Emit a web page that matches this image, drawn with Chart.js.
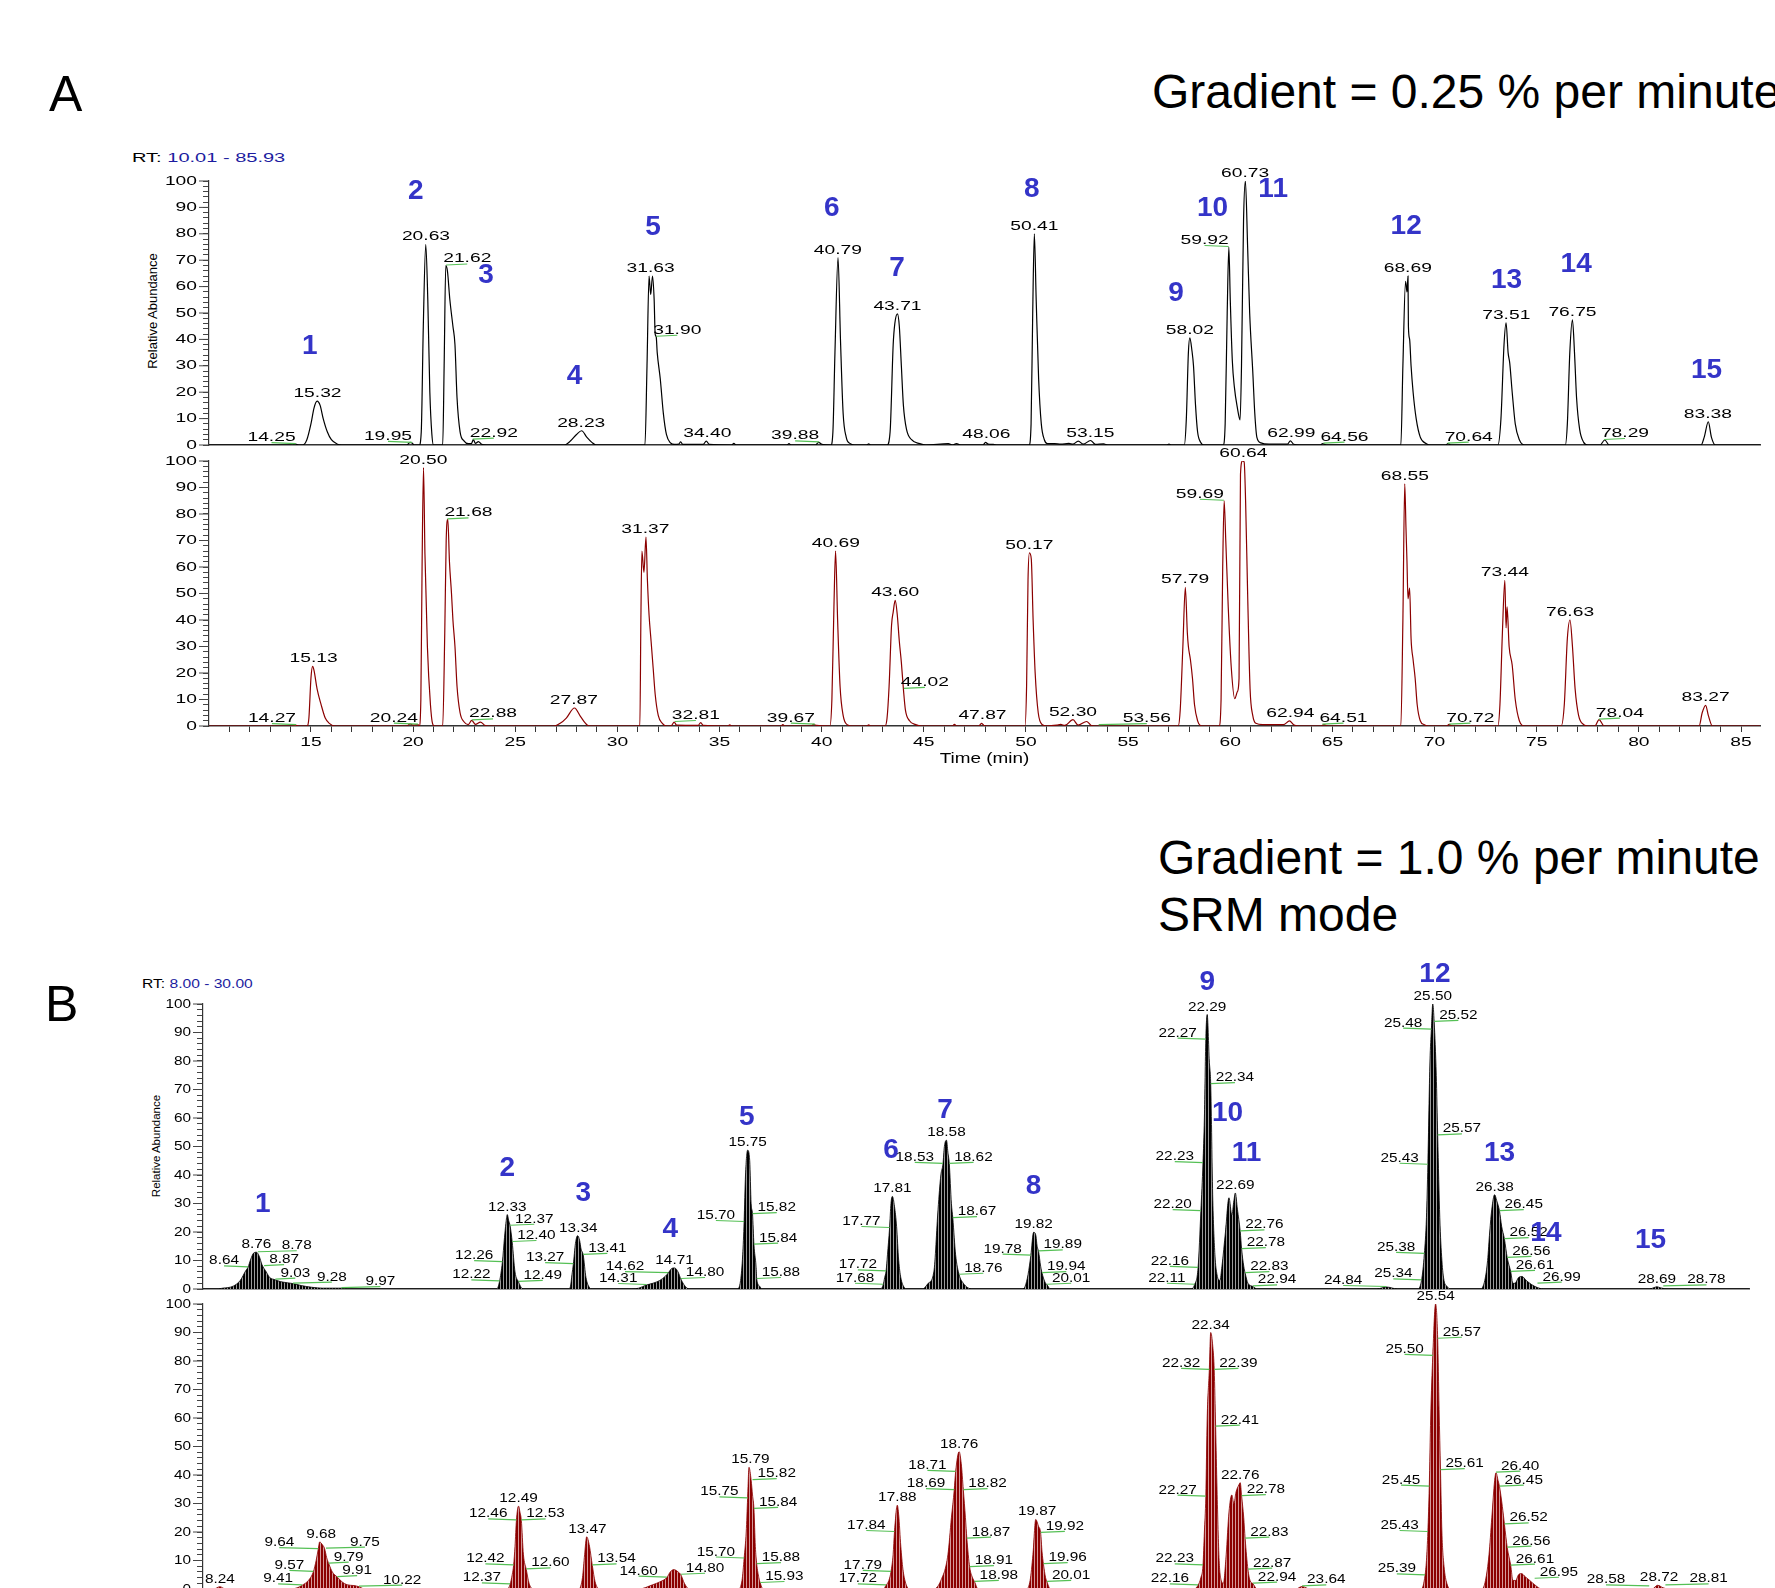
<!DOCTYPE html>
<html>
<head>
<meta charset="utf-8">
<script src="https://cdn.jsdelivr.net/npm/chart.js@4.4.1/dist/chart.umd.min.js"></script>
<style>
body{margin:0;width:1775px;height:1588px;overflow:hidden;background:#fff;position:relative;font-family:"Liberation Sans",Arial,sans-serif}
canvas{position:absolute;left:0}
.big{position:absolute;line-height:1;color:#000;white-space:nowrap}
.rt{position:absolute;font-size:13px;line-height:1;white-space:nowrap;transform-origin:0 0;color:#000}
.rt span{color:#1c1ca0}
.ra{position:absolute;white-space:nowrap;line-height:1;color:#000;transform:translate(-50%,-50%) rotate(-90deg)}
</style>
</head>
<body>
<div class="big" style="left:49px;top:69px;font-size:50px">A</div>
<div class="big" style="left:1152px;top:68px;font-size:48px">Gradient = 0.25 % per minute</div>
<div class="big" style="left:1158px;top:834px;font-size:48px">Gradient = 1.0 % per minute</div>
<div class="big" style="left:1158px;top:891px;font-size:48px">SRM mode</div>
<div class="big" style="left:45px;top:979px;font-size:50px">B</div>
<div class="rt" style="left:132px;top:151px;transform:scaleX(1.54)">RT: <span>10.01 - 85.93</span></div>
<div class="rt" style="left:142px;top:977px;transform:scaleX(1.2)">RT: <span>8.00 - 30.00</span></div>
<div class="ra" style="left:152px;top:311px;font-size:13px">Relative Abundance</div>
<div class="ra" style="left:157px;top:1146px;font-size:11.5px">Relative Abundance</div>

<canvas id="chA1" width="1775" height="330" style="top:130px"></canvas>
<canvas id="chA2" width="1775" height="337" style="top:438px"></canvas>
<canvas id="chB1" width="1775" height="350" style="top:950px"></canvas>
<canvas id="chB2" width="1775" height="330" style="top:1285px"></canvas>

<script>
'use strict';

// ---- panel A (0.25 % per minute), time in min / relative abundance ----
var timeRangeA=[10.01, 85.93];
var timeTicksA=[15,20,25,30,35,40,45,50,55,60,65,70,75,80,85];
var abundanceTicks=[0,10,20,30,40,50,60,70,80,90,100];

var traceA1=[
	[10.01,0],[14.1,0],[14.25,0.3],[14.4,0],
	[14.6,0],[14.8,2],[15.0,8],[15.15,14],[15.3,16.6],[15.45,15],[15.6,10],[15.8,5],[16.0,2],[16.3,0.3],[16.5,0],
	[19.7,0],[19.85,1],[19.95,0.8],[20.05,0],
	[20.3,0],[20.4,5],[20.5,45],[20.62,76],[20.72,55],[20.82,20],[20.92,4],[21.0,0],
	[21.45,0],[21.52,30],[21.6,68],[21.68,66],[21.8,55],[21.95,45],[22.05,38],[22.15,18],[22.3,5],[22.5,1.5],[22.7,0.5],[22.85,0.5],[22.95,2],[23.05,0.6],[23.2,1.3],[23.35,0.3],[23.6,0],
	[27.4,0],[27.7,1.5],[28.0,4],[28.25,5.4],[28.5,3],[28.75,1],[28.95,0],
	[31.35,0],[31.45,30],[31.55,64],[31.63,57],[31.72,64],[31.8,55],[31.85,42],[31.9,41],[31.95,35],[32.1,25],[32.25,12],[32.4,4],[32.6,0.8],[32.8,0.2],[33.0,0.3],[33.1,1.2],[33.2,0.2],[34.2,0.2],[34.35,1.5],[34.5,0.2],[35.6,0],[35.7,0.6],[35.8,0],
	[38.3,0],[38.4,0.5],[38.5,0],[39.7,0],[39.85,1],[40.0,0.3],
	[40.45,0],[40.55,5],[40.65,35],[40.8,71],[40.92,40],[41.05,12],[41.2,3],[41.4,0.5],[41.6,0],
	[42.2,0],[42.3,0.4],[42.4,0],
	[43.2,0],[43.35,5],[43.5,38],[43.58,46],[43.71,49.7],[43.8,45],[43.9,30],[44.0,15],[44.15,6],[44.4,2],[44.8,0.5],[45.1,0],
	[46.2,0.5],[46.4,0],[46.6,0.5],[46.8,0],[47.9,0],[48.02,1],[48.15,0.3],[48.4,0.2],[48.6,0],
	[50.15,0],[50.25,8],[50.33,50],[50.41,80],[50.5,55],[50.62,25],[50.75,8],[50.9,2],[51.05,0.5],[51.4,0.5],[51.7,0.3],[52.1,0.6],[52.3,0.3],[52.56,1.5],[52.8,0.3],[53.16,1.7],[53.4,0.2],[53.8,0.4],[54.0,0],
	[56.9,0],[57.0,0.3],[57.1,0],
	[57.75,0],[57.85,10],[57.95,35],[58.02,40.6],[58.12,36],[58.2,30],[58.3,15],[58.4,5],[58.55,1],[58.7,0],
	[59.65,0],[59.75,8],[59.85,50],[59.93,75],[60.0,55],[60.1,32],[60.2,22],[60.35,14],[60.48,9.5],[60.55,30],[60.65,85],[60.74,100],[60.85,75],[60.95,50],[61.1,28],[61.2,12],[61.3,3],[61.5,0.8],[61.9,0.3],[62.5,0.3],[62.8,0.3],[62.94,1.6],[63.1,0.3],[63.4,0],
	[64.4,0],[64.53,0.5],[64.7,0],
	[68.35,0],[68.45,30],[68.58,62],[68.65,58],[68.7,64],[68.72,45],[68.78,40],[68.85,30],[68.95,20],[69.1,10],[69.3,3],[69.6,0.5],[69.8,0],
	[70.55,0],[70.65,0.5],[70.8,0],
	[73.1,0],[73.25,10],[73.4,38],[73.5,46.3],[73.6,35],[73.68,31],[73.8,20],[73.95,8],[74.15,2],[74.4,0],
	[76.4,0],[76.5,8],[76.62,35],[76.75,47.4],[76.85,35],[76.95,18],[77.1,6],[77.3,1],[77.5,0],
	[78.1,0],[78.33,1.9],[78.55,0],
	[83.05,0],[83.2,3],[83.4,8.8],[83.55,3],[83.75,0],[85.93,0]
];

var traceA2=[
	[10.01,0],[14.1,0],[14.23,0.3],[14.4,0],
	[14.8,0],[14.9,3],[15.0,18],[15.08,22.5],[15.15,21],[15.3,14],[15.5,8],[15.7,3],[15.9,1],[16.2,0],
	[19.7,0],[19.85,0.8],[20.0,0.3],[20.24,0.5],
	[20.3,0],[20.38,10],[20.44,60],[20.51,97.5],[20.58,65],[20.7,30],[20.85,8],[20.95,1],[21.05,0],
	[21.45,0],[21.55,35],[21.62,70],[21.7,78],[21.78,62],[21.88,50],[21.95,40],[22.05,30],[22.15,15],[22.3,5],[22.5,1.5],[22.7,0.5],[22.87,2.1],[23.05,0.6],[23.3,1.5],[23.5,0.3],[23.7,0],
	[26.9,0],[27.2,1],[27.5,3],[27.9,6.8],[28.2,3.5],[28.5,0.5],[28.7,0],
	[31.1,0],[31.15,40],[31.2,66],[31.3,58],[31.4,71.3],[31.47,55],[31.55,42],[31.65,32],[31.75,22],[31.85,12],[32.0,4],[32.2,1],[32.4,0],[32.65,0.2],[32.78,1.5],[32.9,0.3],[33.95,0.2],[34.08,1.3],[34.2,0.2],[35.4,0],[35.5,0.4],[35.6,0],
	[38.0,0],[38.1,0.5],[38.2,0],[39.5,0],[39.6,0.6],[39.75,0.2],
	[40.4,0],[40.5,10],[40.6,45],[40.68,66],[40.78,40],[40.9,15],[41.05,4],[41.25,0.5],[41.5,0],
	[42.2,0],[42.3,0.4],[42.4,0],
	[43.1,0],[43.2,3],[43.3,15],[43.42,38],[43.5,43],[43.6,47.4],[43.7,42],[43.8,32],[43.9,24],[44.0,14],[44.1,6],[44.3,2],[44.6,0.5],[44.9,0],
	[46.4,0],[46.5,0.6],[46.6,0],[47.7,0],[47.82,1],[47.95,0.2],[48.3,0],
	[49.95,0],[50.03,15],[50.1,55],[50.17,65.3],[50.26,63],[50.35,40],[50.45,20],[50.6,5],[50.8,0.5],[51.0,0],[51.5,0.3],[51.7,0.6],[51.9,0.2],[52.3,2.4],[52.55,0.3],[52.97,1.7],[53.2,0.2],[53.6,0],
	[57.45,0],[57.55,6],[57.68,30],[57.8,52.3],[57.9,35],[57.95,30],[58.05,25],[58.15,18],[58.25,8],[58.4,2],[58.6,0],
	[59.45,0],[59.55,10],[59.63,60],[59.7,85],[59.78,70],[59.9,45],[60.05,22],[60.22,10.3],[60.35,13],[60.43,18],[60.5,95],[60.6,100],[60.68,99.6],[60.75,85],[60.85,50],[60.97,14],[61.1,4],[61.25,1],[61.6,0.5],[62.6,0.5],[62.9,1.9],[63.1,0.5],[63.4,0],
	[64.45,0],[64.59,0.5],[64.75,0],
	[68.35,0],[68.45,40],[68.54,91.4],[68.6,75],[68.65,62],[68.7,48],[68.78,52],[68.85,33],[68.95,25],[69.05,18],[69.15,8],[69.3,2],[69.5,0.5],[69.7,0],
	[70.6,0],[70.71,0.6],[70.85,0],
	[73.1,0],[73.2,8],[73.32,35],[73.44,55],[73.5,37],[73.55,45],[73.65,30],[73.8,23],[73.95,10],[74.15,2],[74.4,0],
	[76.2,0],[76.35,8],[76.5,33],[76.63,40],[76.75,30],[76.88,14],[77.05,4],[77.3,0.5],[77.5,0],
	[77.85,0],[78.05,2.4],[78.3,0],
	[82.95,0],[83.1,5],[83.27,7.8],[83.4,4],[83.6,0],[85.93,0]
];

// peak labels: [retention time, abundance, placement]
var labelsA1=[
	[14.25,0.3,'l'],[15.32,16.6,'c'],[19.95,0.8,'l'],[20.63,76,'c'],[21.62,68,'r'],[22.92,2,'r'],
	[28.23,5.4,'c'],[31.63,64,'c'],[31.90,41,'r'],[34.40,1.5,'c'],[39.88,1,'l'],[40.79,71,'c'],
	[43.71,49.7,'c'],[48.06,1,'c'],[50.41,80,'c'],[53.15,1.7,'c'],[58.02,40.6,'c'],[59.92,75,'l'],
	[60.73,100,'c'],[62.99,1.6,'c'],[64.56,0.5,'r'],[68.69,64,'c'],[70.64,0.5,'r'],[73.51,46.3,'c'],
	[76.75,47.4,'c'],[78.29,1.9,'r'],[83.38,8.8,'c']
];
var labelsA2=[
	[14.27,0.3,'l'],[15.13,22.5,'c'],[20.24,0.5,'l'],[20.50,97.5,'c'],[21.68,78,'r'],[22.88,2.1,'r'],
	[27.87,6.8,'c'],[31.37,71.3,'c'],[32.81,1.5,'r'],[39.67,0.5,'l'],[40.69,66,'c'],[43.60,47.4,'c'],
	[44.02,14,'r'],[47.87,1,'c'],[50.17,65.3,'c'],[52.30,2.4,'c'],[53.56,0.3,'R'],[57.79,52.3,'c'],
	[59.69,85,'l'],[60.64,100,'c'],[62.94,1.9,'c'],[64.51,0.5,'r'],[68.55,91.4,'c'],[70.72,0.5,'r'],
	[73.44,55,'c'],[76.63,40,'c'],[78.04,2.4,'r'],[83.27,7.8,'c']
];
// compound numbers: [id, time, abundance]
var compoundsA=[
	[1,14.94,37.4],[2,20.13,96],[3,23.57,64.2],[4,27.9,26],[5,31.74,82.3],[6,40.5,89.5],[7,43.69,67],
	[8,50.29,97],[9,57.35,57.6],[10,59.13,89.5],[11,62.1,97],[12,68.61,82.8],[13,73.52,62.3],
	[14,76.93,68.4],[15,83.31,28.2]
];

// ---- panel B (1.0 % per minute, SRM) ----
var timeRangeB=[8, 30];

var traceB1=[
	[8,0],[8.2,0],[8.28,0.3],[8.43,1],[8.53,3],[8.61,6.5],[8.64,7.6],[8.68,10.5],[8.72,12.6],[8.76,12.9],[8.8,11.5],[8.84,8.5],[8.9,6],[8.95,4],[9.02,3.3],[9.1,2.6],[9.2,2.2],[9.28,1.9],[9.4,1.2],[9.55,0.6],[9.7,0.3],[9.97,0.3],[10.1,0],
	[12.18,0],[12.22,2.7],[12.26,9.4],[12.29,18],[12.31,23],[12.33,26.1],[12.35,24],[12.37,22.2],[12.4,16.5],[12.44,6],[12.49,2.5],[12.53,0.5],[12.56,0],
	[13.2,0],[13.23,1],[13.25,5],[13.27,8.7],[13.3,16],[13.33,18.7],[13.36,17],[13.38,14],[13.41,12],[13.45,4],[13.5,0.5],[13.54,0],
	[14.1,0],[14.2,0.3],[14.31,1.4],[14.4,2],[14.5,3],[14.58,4.5],[14.62,5.6],[14.67,7.2],[14.71,7.4],[14.76,6],[14.8,3.5],[14.86,1],[14.92,0],
	[15.6,0],[15.65,3],[15.68,12],[15.7,23.5],[15.72,40],[15.75,48.7],[15.78,45],[15.8,30],[15.82,26.3],[15.84,15.6],[15.87,8],[15.88,3.5],[15.92,1],[15.96,0],
	[17.64,0],[17.68,1.5],[17.7,4],[17.72,6.2],[17.74,12],[17.77,21.4],[17.79,30],[17.81,32.5],[17.84,29],[17.87,22],[17.9,10],[17.93,4],[17.98,0.5],[18.02,0],
	[18.24,0],[18.32,2],[18.4,6],[18.46,28],[18.5,40],[18.53,43.9],[18.55,50],[18.58,52.2],[18.6,48],[18.62,43.9],[18.65,30],[18.67,24.9],[18.71,12],[18.76,5],[18.82,2],[18.88,0.5],[18.93,0],
	[19.66,0],[19.7,1],[19.74,5],[19.78,11.7],[19.82,19.9],[19.85,19],[19.87,15],[19.89,13.2],[19.92,8],[19.94,5.6],[19.98,2.5],[20.01,1.5],[20.06,0],
	[22.06,0],[22.11,1.5],[22.16,7.4],[22.2,27.3],[22.23,44.2],[22.25,60],[22.27,87.5],[22.29,96.3],[22.32,80],[22.34,71.9],[22.37,31],[22.4,12],[22.43,5],[22.47,3],[22.5,8],[22.55,20],[22.6,32],[22.64,26],[22.67,31],[22.69,33.7],[22.72,28],[22.76,20.2],[22.78,14],[22.81,8],[22.83,5.6],[22.87,2],[22.94,0.9],[23.0,0],
	[24.7,0],[24.84,0.7],[25.0,0],
	[25.28,0],[25.34,3],[25.38,12.3],[25.41,25],[25.43,43.6],[25.46,80],[25.48,91],[25.5,100],[25.52,93.7],[25.55,75],[25.57,53.9],[25.6,25],[25.63,10],[25.66,3],[25.7,1],[25.75,0],
	[26.18,0],[26.24,3],[26.28,10],[26.31,20],[26.34,28],[26.38,33.1],[26.41,31],[26.45,27.3],[26.48,22],[26.52,17.5],[26.56,10.9],[26.61,6],[26.64,2],[26.67,2],[26.72,4],[26.77,4.4],[26.83,3],[26.91,1.5],[26.99,0.5],[27.07,0],
	[28.58,0],[28.65,0.5],[28.69,0.8],[28.74,0.4],[28.78,0.2],[28.85,0],[30,0]
];

var traceB2=[
	[8,0],[8.15,0],[8.24,0.8],[8.32,0],
	[9.25,0],[9.35,0.5],[9.41,1.3],[9.5,3],[9.57,6],[9.61,10],[9.64,14],[9.66,16.5],[9.7,15.5],[9.73,14.2],[9.76,11],[9.79,8.9],[9.84,6],[9.91,4.2],[9.98,2.5],[10.05,1.5],[10.15,1.2],[10.22,0.8],[10.3,0],
	[12.33,0],[12.37,1.6],[12.4,5],[12.42,8.3],[12.44,15],[12.46,24.1],[12.49,29.1],[12.51,27],[12.53,24.1],[12.56,12],[12.6,6.9],[12.64,2],[12.7,0],
	[13.35,0],[13.4,4],[13.43,12],[13.46,18.3],[13.5,15],[13.54,8.3],[13.58,2.5],[13.64,0],
	[14.2,0],[14.4,1.5],[14.5,2.5],[14.6,4],[14.65,6],[14.7,6.8],[14.76,6],[14.8,5],[14.85,2],[14.92,0],
	[15.62,0],[15.67,3],[15.7,10.7],[15.73,20],[15.75,31.8],[15.77,42.7],[15.8,38.2],[15.82,33],[15.84,28.1],[15.86,15],[15.88,8.7],[15.91,4],[15.93,2.1],[15.97,0],
	[17.68,0],[17.72,1.3],[17.76,3],[17.79,6],[17.82,12],[17.84,20],[17.88,29.4],[17.9,26],[17.93,15],[17.96,7],[18.0,2],[18.05,0],
	[18.4,0],[18.5,3],[18.6,12],[18.65,25],[18.69,34.7],[18.71,41.1],[18.76,48.2],[18.79,44],[18.82,34.7],[18.85,25],[18.87,17.7],[18.91,7.7],[18.95,4],[18.98,2.5],[19.03,0],
	[19.72,0],[19.77,3],[19.81,12],[19.85,24.4],[19.89,22],[19.92,19.7],[19.94,13],[19.96,8.7],[19.99,4],[20.01,2.5],[20.06,0],
	[22.1,0],[22.16,1.3],[22.2,4],[22.23,8.3],[22.25,20],[22.27,32.4],[22.29,60],[22.32,76.9],[22.34,90],[22.37,85],[22.39,76.9],[22.41,57],[22.43,35],[22.46,10],[22.49,3],[22.52,2],[22.56,12],[22.6,27],[22.64,33],[22.67,30],[22.7,34],[22.74,36.5],[22.76,37.3],[22.78,32.6],[22.81,25],[22.83,17.7],[22.87,6.8],[22.9,3],[22.94,1.9],[23.0,0],
	[23.55,0],[23.64,0.9],[23.75,0],
	[25.34,0],[25.39,4.8],[25.41,10],[25.43,20],[25.45,35.9],[25.47,60],[25.5,81.8],[25.54,100],[25.57,87.8],[25.59,63],[25.61,41.7],[25.63,20],[25.66,8],[25.7,2],[25.76,0],
	[26.2,0],[26.25,3],[26.3,12],[26.34,25],[26.38,38],[26.4,40.8],[26.43,38],[26.45,35.9],[26.49,29],[26.52,22.7],[26.56,14.5],[26.61,8.2],[26.64,3],[26.68,3],[26.72,5],[26.76,5.4],[26.82,4.2],[26.88,3],[26.95,1.5],[27.05,0],
	[28.62,0],[28.7,1.3],[28.78,0.4],[28.86,0],[30,0]
];

var labelsB1=[
	[8.64,7.6,'l'],[8.76,12.9,'c'],[8.78,12.9,'R'],[8.87,8,'r'],[9.03,3.3,'r'],[9.28,1.9,'R'],[9.97,0.3,'R'],
	[12.22,2.7,'l'],[12.26,9.4,'l'],[12.33,26.1,'c'],[12.37,22.2,'r'],[12.40,16.5,'r'],[12.49,2.5,'r'],
	[13.27,8.7,'l'],[13.34,18.7,'c'],[13.41,12,'r'],
	[14.31,1.4,'l'],[14.62,5.6,'L'],[14.71,7.4,'c'],[14.80,3.5,'r'],
	[15.70,23.5,'l'],[15.75,48.7,'c'],[15.82,26.3,'r'],[15.84,15.6,'r'],[15.88,3.5,'r'],
	[17.68,1.5,'l'],[17.72,6.2,'l'],[17.77,21.4,'l'],[17.81,32.5,'c'],
	[18.53,43.9,'l'],[18.58,52.2,'c'],[18.62,43.9,'r'],[18.67,24.9,'r'],[18.76,5,'r'],
	[19.78,11.7,'l'],[19.82,19.9,'c'],[19.89,13.2,'r'],[19.94,5.6,'r'],[20.01,1.5,'r'],
	[22.11,1.5,'l'],[22.16,7.4,'l'],[22.20,27.3,'l'],[22.23,44.2,'l'],[22.27,87.5,'l'],[22.29,96.3,'c'],[22.34,71.9,'r'],
	[22.69,33.7,'c'],[22.76,20.2,'r'],[22.78,14,'r'],[22.83,5.6,'r'],[22.94,0.9,'r'],
	[24.84,0.7,'L'],
	[25.34,3,'l'],[25.38,12.3,'l'],[25.43,43.6,'l'],[25.48,91,'l'],[25.50,100,'c'],[25.52,93.7,'r'],[25.57,53.9,'r'],
	[26.38,33.1,'c'],[26.45,27.3,'r'],[26.52,17.5,'r'],[26.56,10.9,'r'],[26.61,6,'r'],[26.99,1.9,'r'],
	[28.69,0.8,'c'],[28.78,0.9,'R']
];
var labelsB2=[
	[8.24,0.8,'c'],[9.41,1.3,'l'],[9.57,6,'l'],[9.64,14,'L'],[9.68,16.5,'c'],[9.75,14.2,'R'],[9.79,8.9,'r'],[9.91,4.2,'r'],[10.22,0.8,'R'],
	[12.37,1.6,'l'],[12.42,8.3,'l'],[12.46,24.1,'l'],[12.49,29.1,'c'],[12.53,24.1,'r'],[12.60,6.9,'r'],
	[13.47,18.3,'c'],[13.54,8.3,'r'],
	[14.60,4,'l'],[14.80,5,'r'],
	[15.70,10.7,'l'],[15.75,31.8,'l'],[15.79,42.7,'c'],[15.82,38.2,'r'],[15.84,28.1,'r'],[15.88,8.7,'r'],[15.93,2.1,'r'],
	[17.72,1.3,'l'],[17.79,6,'l'],[17.84,20,'l'],[17.88,29.4,'c'],
	[18.69,34.7,'l'],[18.71,41.1,'l'],[18.76,48.2,'c'],[18.82,34.7,'r'],[18.87,17.7,'r'],[18.91,7.7,'r'],[18.98,2.5,'r'],
	[19.87,24.4,'c'],[19.92,19.7,'r'],[19.96,8.7,'r'],[20.01,2.5,'r'],
	[22.16,1.3,'l'],[22.23,8.3,'l'],[22.27,32.4,'l'],[22.32,76.9,'l'],[22.34,90,'c'],[22.39,76.9,'r'],[22.41,57,'r'],
	[22.76,37.3,'c'],[22.78,32.6,'r'],[22.83,17.7,'r'],[22.87,6.8,'r'],[22.94,1.9,'r'],[23.64,0.9,'r'],
	[25.39,4.8,'l'],[25.43,20,'l'],[25.45,35.9,'l'],[25.50,81.8,'l'],[25.54,100,'c'],[25.57,87.8,'r'],[25.61,41.7,'r'],
	[26.40,40.8,'r'],[26.45,35.9,'r'],[26.52,22.7,'r'],[26.56,14.5,'r'],[26.61,8.2,'r'],[26.95,3.6,'r'],
	[28.58,0.9,'L'],[28.72,1.3,'c'],[28.81,1.3,'R']
];
var compoundsB=[
	[1,8.85,29.6],[2,12.33,42.2],[3,13.41,33.7],[4,14.65,20.8],[5,15.74,60.4],[6,17.79,48.7],[7,18.56,62.7],
	[8,19.82,36],[9,22.29,107.7],[10,22.58,61.8],[11,22.85,47.7],[12,25.53,110.6],[13,26.45,47.5],
	[14,27.11,19.6],[15,28.6,17.1]
];

var FONT='"Liberation Sans", Arial, sans-serif';
var GREEN='#55c055';
var BLUE='#3434c8';
var LABEL_SIZE=13;

function text(ctx, s, x, y, align, base, size, sx, color, bold) {
	ctx.save();
	ctx.font=(bold ? 'bold ' : '')+size+'px '+FONT;
	ctx.fillStyle=color;
	ctx.textAlign=align;
	ctx.textBaseline=base;
	ctx.translate(x, y);
	ctx.scale(sx, 1);
	ctx.fillText(s, 0, 0);
	ctx.restore();
}

function textWidth(ctx, s, size, sx) {
	ctx.save();
	ctx.font=size+'px '+FONT;
	var w=ctx.measureText(s).width*sx;
	ctx.restore();
	return w;
}

// comb-like fill for the SRM traces
function stripes(ctx, dark, light) {
	var c=document.createElement('canvas');
	c.width=3; c.height=1;
	var g=c.getContext('2d');
	g.fillStyle=dark; g.fillRect(0, 0, 3, 1);
	g.fillStyle=light; g.fillRect(2, 0, 1, 1);
	return ctx.createPattern(c, 'repeat');
}

function drawExtras(chart, o) {
	var ctx=chart.ctx, x=chart.scales.x, y=chart.scales.y, area=chart.chartArea;

	// y tick labels + longer major ticks
	ctx.save();
	ctx.strokeStyle='#444';
	ctx.lineWidth=1;
	abundanceTicks.forEach(function(v) {
		var py=y.getPixelForValue(v);
		ctx.beginPath();
		ctx.moveTo(area.left-10, py);
		ctx.lineTo(area.left, py);
		ctx.stroke();
		text(ctx, String(v), area.left-12, py, 'right', 'middle', LABEL_SIZE, o.sx, '#000');
	});
	ctx.restore();

	if (o.timeTicks) {
		o.timeTicks.forEach(function(v) {
			text(ctx, String(v), x.getPixelForValue(v), area.bottom+20, 'center', 'alphabetic', LABEL_SIZE, o.sx, '#000');
		});
		text(ctx, 'Time (min)', (area.left+area.right)/2, area.bottom+37, 'center', 'alphabetic', 14, 1.35, '#000');
	}

	// peak labels
	o.labels.forEach(function(l) {
		var s=l[0].toFixed(2), px=x.getPixelForValue(l[0]), py=y.getPixelForValue(l[1]), k=l[2];
		var w=textWidth(ctx, s, LABEL_SIZE, o.sx), left;
		if (k==='c') {
			text(ctx, s, px, py-4, 'center', 'alphabetic', LABEL_SIZE, o.sx, '#000');
			return;
		}
		if (k==='r') left=px+o.nearR;
		else if (k==='R') left=px+24;
		else if (k==='l') left=px-o.nearL-w;
		else left=px-24-w;
		ctx.save();
		ctx.strokeStyle=GREEN;
		ctx.lineWidth=1.2;
		ctx.beginPath();
		ctx.moveTo(px, py-0.5);
		ctx.lineTo(left+w/2, py-1.5);
		ctx.stroke();
		ctx.restore();
		text(ctx, s, left, py-3, 'left', 'alphabetic', LABEL_SIZE, o.sx, '#000');
	});

	(o.compounds || []).forEach(function(c) {
		text(ctx, String(c[0]), x.getPixelForValue(c[1]), y.getPixelForValue(c[2]), 'center', 'middle', 28, 1, BLUE, true);
	});
}

function chromChart(id, o) {
	var ctx=document.getElementById(id).getContext('2d');
	return new Chart(ctx, {
		type: 'line',
		data: {
			datasets: [{
				data: o.trace.map(function(p) { return {x: p[0], y: p[1]}; }),
				borderColor: o.color,
				borderWidth: o.lineWidth,
				backgroundColor: o.light ? stripes(ctx, o.color, o.light) : 'transparent',
				fill: o.light ? 'origin' : false,
				pointRadius: 0,
				cubicInterpolationMode: 'monotone'
			}]
		},
		options: {
			responsive: false,
			animation: false,
			devicePixelRatio: 1,
			layout: {autoPadding: false, padding: o.padding},
			plugins: {legend: {display: false}, tooltip: {enabled: false}},
			scales: {
				x: {
					type: 'linear',
					min: o.range[0],
					max: o.range[1],
					ticks: {display: false},
					grid: {drawOnChartArea: false, drawTicks: !!o.timeTicks, tickLength: 6, tickColor: '#333'},
					border: {color: '#333', width: 1.5},
					afterBuildTicks: function(s) {
						var t=[];
						for (var v=Math.ceil(o.range[0]); v<=o.range[1]; v++) t.push({value: v});
						s.ticks=t;
					},
					afterFit: function(s) { s.height=o.xHeight; }
				},
				y: {
					min: 0,
					max: 100,
					ticks: {display: false},
					grid: {drawOnChartArea: false, tickLength: 6, tickColor: '#444'},
					border: {color: '#333', width: 1.2},
					afterBuildTicks: function(s) {
						var t=[];
						for (var v=0; v<=100; v+=2) t.push({value: v});
						s.ticks=t;
					},
					afterFit: function(s) { s.width=o.yWidth; }
				}
			}
		},
		plugins: [{id: 'chrom', afterDraw: function(chart) { drawExtras(chart, o); }}]
	});
}

chromChart('chA1', {
	trace: traceA1, color: '#000', lineWidth: 1.2, range: timeRangeA,
	padding: {top: 51, left: 0, right: 15, bottom: 15}, yWidth: 209, xHeight: 0,
	labels: labelsA1, compounds: compoundsA, sx: 1.48, nearR: -3, nearL: 0
});
chromChart('chA2', {
	trace: traceA2, color: '#8b0000', lineWidth: 1.2, range: timeRangeA,
	padding: {top: 23, left: 0, right: 15, bottom: 0}, yWidth: 209, xHeight: 49,
	labels: labelsA2, timeTicks: timeTicksA, sx: 1.48, nearR: -3, nearL: 0
});
chromChart('chB1', {
	trace: traceB1, color: '#000', light: '#9a9a9a', lineWidth: 0.8, range: timeRangeB,
	padding: {top: 54, left: 0, right: 26, bottom: 11}, yWidth: 203, xHeight: 0,
	labels: labelsB1, compounds: compoundsB, sx: 1.18, nearR: 5, nearL: 9
});
chromChart('chB2', {
	trace: traceB2, color: '#8b0000', light: '#d49a9a', lineWidth: 0.8, range: timeRangeB,
	padding: {top: 19, left: 0, right: 26, bottom: 26}, yWidth: 203, xHeight: 0,
	labels: labelsB2, sx: 1.18, nearR: 5, nearL: 9
});
</script>
</body>
</html>
